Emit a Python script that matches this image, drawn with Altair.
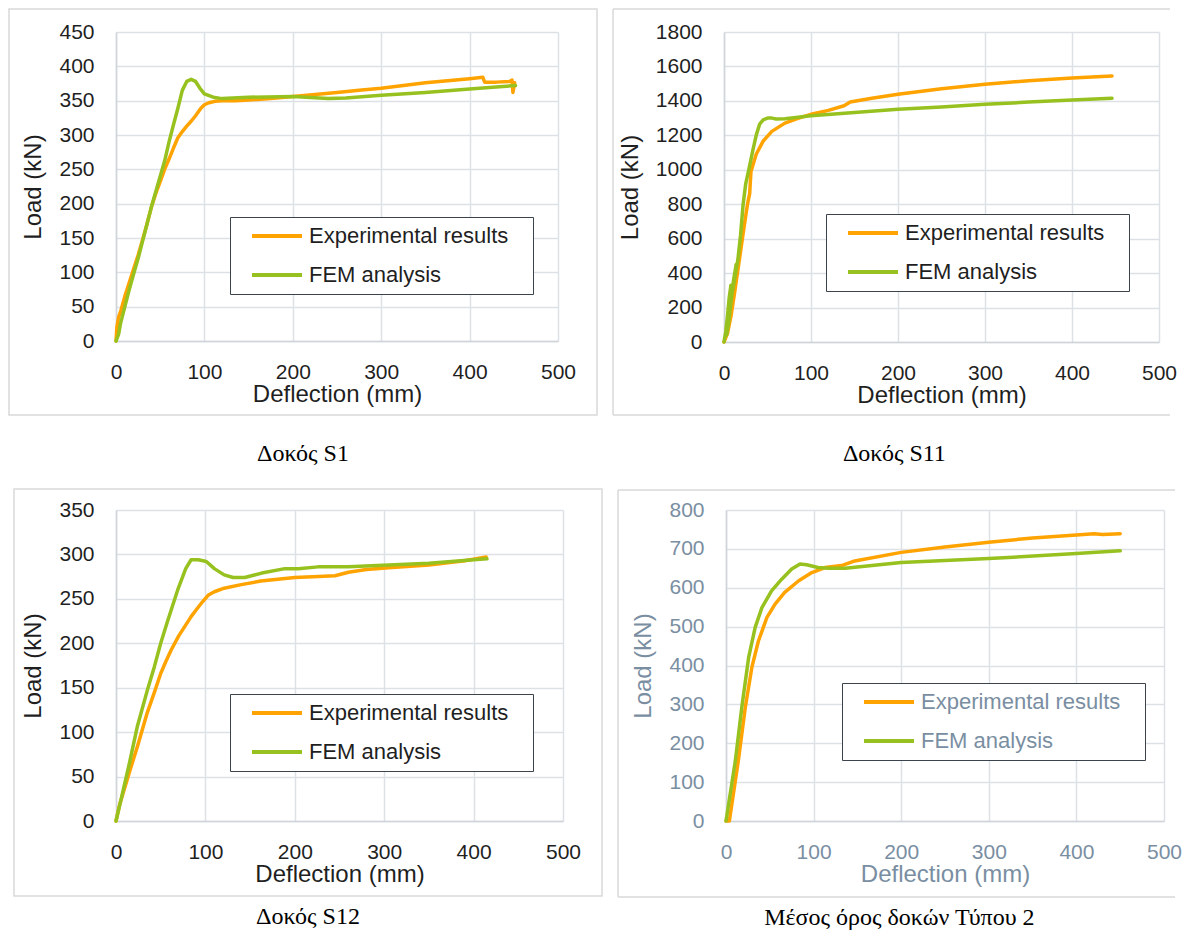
import altair as alt
import pandas as pd

series_names = ["Experimental results", "FEM analysis"]
series_colors = ["#FFA300", "#97C11F"]

# ---- Δοκός S1 ----
s1_exp_x = [0, 1, 3, 5, 10, 15, 20, 25, 30, 35, 40, 45, 50, 55, 60, 65, 70, 75, 80, 85, 90, 96, 100, 105, 112, 120, 135, 150, 175, 200, 225, 250, 275, 300, 325, 350, 375, 400, 415, 417, 430, 445, 448, 449, 451]
s1_exp_y = [0, 20, 35, 42, 65, 85, 105, 125, 147, 170, 195, 215, 232, 250, 265, 281, 296, 305, 313, 320, 328, 339, 344, 347, 349, 350, 350, 351, 353, 356, 359, 362, 365, 368, 372, 376, 379, 382, 384, 377, 377, 378, 380, 362, 376]
s1_fem_x = [0, 3, 5, 10, 15, 20, 25, 30, 40, 50, 55, 60, 65, 70, 75, 80, 85, 90, 95, 100, 110, 120, 150, 200, 240, 260, 300, 350, 400, 430, 452]
s1_fem_y = [0, 10, 25, 50, 75, 98, 120, 145, 195, 240, 262, 290, 315, 339, 365, 378, 381, 378, 368, 360, 355, 353, 355, 356, 353, 354, 358, 362, 367, 370, 372]

# ---- Δοκός S11 ----
s11_exp_x = [0, 4, 8, 12, 16, 20, 24, 27, 29.5, 31, 37, 45, 55, 70, 85, 100, 120, 138, 145, 170, 200, 250, 300, 350, 400, 446]
s11_exp_y = [0, 50, 150, 280, 420, 560, 700, 800, 861, 990, 1090, 1166, 1223, 1271, 1299, 1322, 1345, 1372, 1394, 1415, 1438, 1470, 1497, 1517, 1533, 1545]
s11_fem_x = [0, 2, 4, 6, 8, 6, 4, 3, 5, 8, 11, 14, 12, 10, 12, 16, 19, 22, 25, 29, 33, 37, 41, 45, 50, 55, 60, 70, 80, 100, 150, 200, 250, 300, 350, 400, 446]
s11_fem_y = [0, 60, 150, 260, 330, 250, 120, 40, 100, 230, 360, 450, 380, 300, 360, 480, 620, 800, 920, 1013, 1110, 1200, 1265, 1290, 1300, 1300, 1295, 1296, 1302, 1314, 1333, 1352, 1365, 1380, 1393, 1405, 1416]

# ---- Δοκός S12 ----
s12_exp_x = [0, 4, 9, 15, 24, 35, 43, 50, 56, 62, 70, 77, 84, 90, 97, 103, 110, 121, 140, 162, 200, 220, 245, 260, 280, 305, 350, 390, 414]
s12_exp_y = [0, 18, 35, 55, 84, 122, 145, 166, 180, 193, 208, 219, 230, 238, 247, 254, 258, 262, 266, 270, 274, 275, 276, 280, 283, 285, 288, 293, 297]
s12_fem_x = [0, 5.6, 15, 24, 35, 43, 50, 58, 69, 78, 84, 92, 101, 110, 121, 131, 144, 163, 189, 204, 226, 260, 305, 350, 400, 415]
s12_fem_y = [0, 24, 65, 107, 147, 174, 200, 226, 260, 284, 294, 294, 292, 284, 277, 274, 274, 279, 284, 284, 286, 286, 288, 290, 294, 295]

# ---- Μέσος όρος δοκών Τύπου 2 ----
avg_exp_x = [0, 3.8, 14, 22, 29.5, 37, 46.6, 56, 67, 83, 98, 113, 132, 147, 200, 250, 300, 350, 400, 420, 430, 450]
avg_exp_y = [0, 0, 154, 292, 395, 463, 523, 558, 588, 618, 639, 652, 657, 669, 691, 705, 717, 728, 736, 739, 737, 739]
avg_fem_x = [0, 10.6, 18, 25.8, 33.3, 41, 52, 63.6, 75, 84.5, 92, 105, 117, 136, 200, 300, 400, 450]
avg_fem_y = [0, 154, 292, 420, 498, 549, 592, 622, 648, 661, 659, 652, 650, 650, 665, 675, 688, 695]

captions = ["Δοκός S1", "Δοκός S11", "Δοκός S12", "Μέσος όρος δοκών Τύπου 2"]

FONT = "Liberation Sans"
GRID = "#dde1e6"
DOMAIN = "#cfd4da"
FRAME = "#d9d9d9"
PAD_CHAR = "\u2800"


def make_panel(exp_x, exp_y, fem_x, fem_y, ymax, ystep, caption, cap_offset, w, h,
               frame, open_right, legend_xy, text_color):
    rows = []
    for name, xs, ys in ((series_names[0], exp_x, exp_y), (series_names[1], fem_x, fem_y)):
        for i, (xv, yv) in enumerate(zip(xs, ys)):
            rows.append({"series": name, "i": i, "x": xv, "y": yv})
    df = pd.DataFrame(rows)

    lines = alt.Chart(df).mark_line(strokeWidth=3.5, strokeJoin="round", strokeCap="round").encode(
        x=alt.X("x:Q", scale=alt.Scale(domain=[0, 500], nice=False),
                axis=alt.Axis(values=list(range(0, 501, 100)), title="Deflection (mm)",
                              format="d",
                              grid=True, gridColor=GRID, gridWidth=1.5,
                              domainColor=DOMAIN, domainWidth=1.5, ticks=False,
                              labelFont=FONT, labelFontSize=21, labelColor=text_color,
                              labelPadding=20, labelFlush=False, labelOverlap=False,
                              titleFont=FONT, titleFontSize=24, titleFontWeight="normal",
                              titleColor=text_color, titlePadding=0)),
        y=alt.Y("y:Q", scale=alt.Scale(domain=[0, ymax], nice=False),
                axis=alt.Axis(values=list(range(0, ymax + 1, ystep)), title="Load (kN)",
                              format="d",
                              grid=True, gridColor=GRID, gridWidth=1.5,
                              domainColor=DOMAIN, domainWidth=1.5, ticks=False,
                              labelFont=FONT, labelFontSize=21, labelColor=text_color,
                              labelPadding=22, labelFlush=False, labelOverlap=False,
                              titleFont=FONT, titleFontSize=24, titleFontWeight="normal",
                              titleColor=text_color, titlePadding=13)),
        color=alt.Color("series:N",
                        scale=alt.Scale(domain=series_names, range=series_colors),
                        legend=alt.Legend(title=None, orient="none",
                                          legendX=legend_xy[0], legendY=legend_xy[1],
                                          direction="vertical", symbolType="stroke",
                                          symbolStrokeWidth=4, symbolSize=2500,
                                          symbolOffset=12, clipHeight=22,
                                          labelFont=FONT, labelFontSize=22, labelLimit=400,
                                          labelColor=text_color, labelOffset=5,
                                          labelExpr="datum.label + '" + PAD_CHAR + "'",
                                          strokeColor="#3b434c", fillColor="white",
                                          padding=8, rowPadding=17)),
        order=alt.Order("i:Q"),
    )

    frame_df = pd.DataFrame({"k": [0]})
    x1, y1, x2, y2 = frame
    if open_right:
        base = alt.Chart(frame_df).mark_rule(stroke=FRAME, strokeWidth=1.5)
        top = base.encode(x=alt.value(x1), x2=alt.value(x2), y=alt.value(y1))
        bottom = base.encode(x=alt.value(x1), x2=alt.value(x2), y=alt.value(y2))
        left = base.encode(x=alt.value(x1), y=alt.value(y1), y2=alt.value(y2))
        layers = [top, bottom, left, lines]
    else:
        box = alt.Chart(frame_df).mark_rect(fill="white", fillOpacity=0, stroke=FRAME,
                                           strokeWidth=1.5).encode(
            x=alt.value(x1), x2=alt.value(x2), y=alt.value(y1), y2=alt.value(y2))
        layers = [box, lines]

    return alt.layer(*layers).properties(
        width=w, height=h,
        title=alt.TitleParams(caption, orient="bottom", font="Liberation Serif",
                              fontSize=24, fontWeight="normal", color="black",
                              anchor="middle", frame="bounds", offset=cap_offset),
    )


p1 = make_panel(s1_exp_x, s1_exp_y, s1_fem_x, s1_fem_y, 450, 50, captions[0], 26, 442, 309,
                (-107, -23, 481, 383), False, (114, 185), "#1f1f1f")
p2 = make_panel(s11_exp_x, s11_exp_y, s11_fem_x, s11_fem_y, 1800, 200, captions[1], 26, 435, 310,
                (-111, -23, 446, 383), True, (102, 182), "#1f1f1f")
p3 = make_panel(s12_exp_x, s12_exp_y, s12_fem_x, s12_fem_y, 350, 50, captions[2], 8, 447, 311,
                (-102, -21, 486, 386), False, (114, 184), "#1f1f1f")
p4 = make_panel(avg_exp_x, avg_exp_y, avg_fem_x, avg_fem_y, 800, 100, captions[3], 8, 438, 311,
                (-108, -20, 449, 387), True, (116, 173), "#7a8ea2")

row1 = alt.hconcat(p1, p2, spacing=14).resolve_scale(color="independent")
row2 = alt.hconcat(p3, p4, spacing=14).resolve_scale(color="independent")

chart = alt.vconcat(row1, row2, spacing=22).resolve_scale(color="independent").properties(
    padding={"left": 0, "top": 0, "right": 0, "bottom": 0},
    background="white",
).configure_view(stroke=None)

chart.save("out.html", embed_options={"renderer": "svg", "actions": False})
